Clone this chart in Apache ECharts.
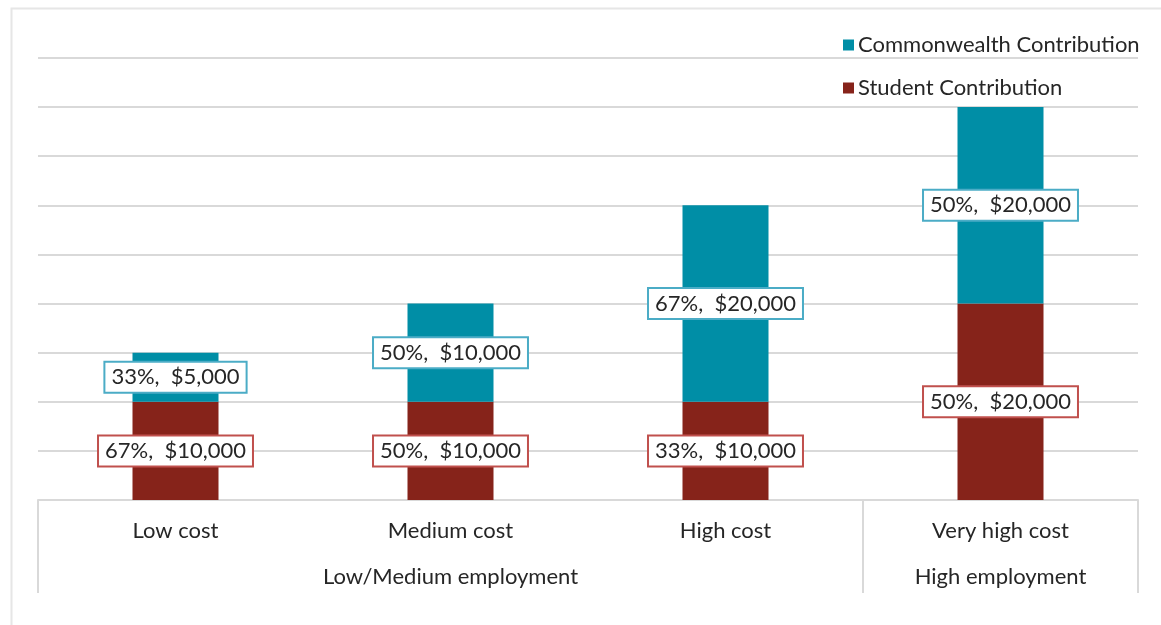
<!DOCTYPE html>
<html>
<head>
<meta charset="utf-8">
<script src="https://cdn.jsdelivr.net/npm/echarts@6/dist/echarts.min.js"></script>
<style>
html,body{margin:0;padding:0;background:#fff;}
#chart{width:1161px;height:625px;}
</style>
</head>
<body>
<div id="chart"></div>
<script>
const categories = ['Low cost', 'Medium cost', 'High cost', 'Very high cost'];
const groupLabels = ['', 'Low/Medium employment', '', 'High employment'];
const studentValues = [10000, 10000, 10000, 20000];
const commonwealthValues = [5000, 10000, 20000, 20000];
const studentPct = [67, 50, 33, 50];
const commonwealthPct = [33, 50, 67, 50];

const FONT = 'Lato';
const FS = 22;
const TXT = '#262626';
const GRID = '#D9D9D9';

function fmtMoney(v) { return '$' + v.toLocaleString('en-US'); }

const chart = echarts.init(document.getElementById('chart'), null, {renderer: 'canvas'});
chart.setOption({
  animation: false,
  backgroundColor: '#fff',
  textStyle: {fontFamily: FONT, color: TXT},
  graphic: [{
    type: 'rect', left: 9, top: 6,
    shape: {width: 1200, height: 700},
    style: {fill: 'none', stroke: '#E6E6E6', lineWidth: 2},
    silent: true, z: -1
  }],
  legend: {
    orient: 'vertical',
    left: 838, top: 29,
    itemWidth: 11, itemHeight: 11, itemGap: 21,
    icon: 'rect',
    textStyle: {fontFamily: FONT, fontSize: FS, color: TXT, padding: [0, 0, 0, -1]},
    data: ['Commonwealth Contribution', 'Student Contribution']
  },
  grid: {left: 38, right: 23, top: 58, bottom: 125, containLabel: false},
  xAxis: [{
    type: 'category',
    data: categories,
    position: 'bottom',
    axisLine: {show: true, lineStyle: {color: GRID, width: 2}},
    axisTick: {
      show: true, length: 93,
      lineStyle: {color: GRID, width: 2},
      interval: function (i) { return i === 0 || i === 3; }
    },
    axisLabel: {fontFamily: FONT, fontSize: FS, color: TXT, margin: 20, interval: 0}
  }, {
    type: 'category',
    data: groupLabels,
    position: 'bottom',
    offset: 46,
    axisLine: {show: false},
    axisTick: {show: false},
    axisLabel: {fontFamily: FONT, fontSize: FS, color: TXT, margin: 20, interval: 0}
  }],
  yAxis: {
    type: 'value', min: 0, max: 45000, interval: 5000,
    axisLabel: {show: false},
    axisLine: {show: false},
    axisTick: {show: false},
    splitLine: {show: true, lineStyle: {color: GRID, width: 2}}
  },
  series: [{
    name: 'Student Contribution',
    type: 'bar', stack: 'total', barWidth: 86,
    data: studentValues,
    itemStyle: {color: '#86231A'},
    label: {
      show: true, position: 'inside',
      formatter: p => studentPct[p.dataIndex] + '%,  ' + fmtMoney(p.value),
      fontFamily: FONT, fontSize: FS, color: TXT,
      backgroundColor: '#fff', borderColor: '#C0504D', borderWidth: 2,
      padding: [4, 6, 3, 6]
    }
  }, {
    name: 'Commonwealth Contribution',
    type: 'bar', stack: 'total', barWidth: 86,
    data: commonwealthValues,
    itemStyle: {color: '#008EA6'},
    label: {
      show: true, position: 'inside',
      formatter: p => commonwealthPct[p.dataIndex] + '%,  ' + fmtMoney(p.value),
      fontFamily: FONT, fontSize: FS, color: TXT,
      backgroundColor: '#fff', borderColor: '#4BACC6', borderWidth: 2,
      padding: [4, 6, 3, 6]
    }
  }]
});
</script>
</body>
</html>
